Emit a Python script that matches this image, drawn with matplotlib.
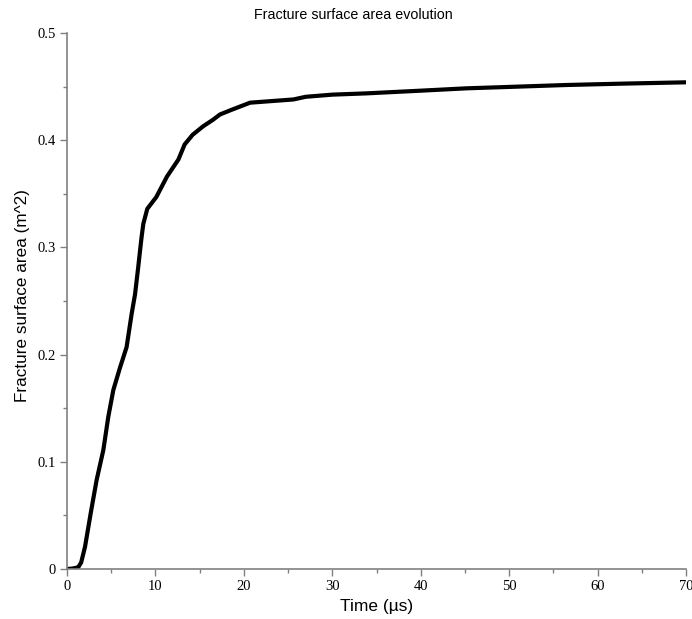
import matplotlib
matplotlib.use("Agg")
import matplotlib.pyplot as plt
import numpy as np
from matplotlib.ticker import MultipleLocator

time_us = [0, 0.5, 1.0, 1.3, 1.6, 2.04, 2.68, 3.35, 4.11, 4.67, 5.24, 6.0, 6.74, 7.31,
           7.69, 8.06, 8.26, 8.44, 8.63, 9.08, 10.1, 11.3, 12.6, 13.3, 14.2, 15.4,
           16.5, 17.3, 18.5, 20.7, 25.6, 27.0, 30.0, 33.9, 40.0, 45.2, 50.0, 56.5, 63.0, 70.0]
area_m2 = [0, 0.0003, 0.001, 0.002, 0.006, 0.0208, 0.052, 0.083, 0.111, 0.142, 0.167, 0.188,
           0.207, 0.238, 0.256, 0.282, 0.297, 0.310, 0.322, 0.336, 0.347, 0.366, 0.382,
           0.396, 0.405, 0.413, 0.419, 0.424, 0.428, 0.435, 0.438, 0.4405, 0.4425, 0.4437,
           0.4462, 0.4484, 0.4497, 0.4515, 0.4528, 0.454]

x_ticks = [0, 10, 20, 30, 40, 50, 60, 70]
y_ticks = [0, 0.1, 0.2, 0.3, 0.4, 0.5]
y_ticklabels = ["0", "0.1", "0.2", "0.3", "0.4", "0.5"]

fig = plt.figure(figsize=(6.92, 6.19), dpi=100)
ax = fig.add_axes([67/692, 1-569/619, (686-67)/692, (569-33)/619])
ax.plot(time_us, area_m2, color="black", lw=3.0, solid_capstyle="round", solid_joinstyle="round")
ax.set_xlim(0, 70)
ax.set_ylim(0, 0.5)
ax.set_xticks(x_ticks)
ax.set_yticks(y_ticks)
ax.set_yticklabels(y_ticklabels)
ax.xaxis.set_minor_locator(MultipleLocator(5))
ax.yaxis.set_minor_locator(MultipleLocator(0.05))
for s in ["top", "right"]:
    ax.spines[s].set_visible(False)
for s in ["left", "bottom"]:
    ax.spines[s].set_color("#808080")
    ax.spines[s].set_linewidth(1.2)
ax.tick_params(which="major", direction="out", length=5, width=1, color="#808080",
               labelsize=10.5, pad=3)
ax.tick_params(which="minor", direction="out", length=3, width=1, color="#808080")
for lab in ax.get_xticklabels() + ax.get_yticklabels():
    lab.set_fontfamily("Liberation Serif")
ax.set_xlabel("Time (µs)", fontfamily="Liberation Sans", fontsize=12.5)
ax.set_ylabel("Fracture surface area (m^2)", fontfamily="Liberation Sans", fontsize=12.3)
ax.xaxis.set_label_coords(0.5, -(606-569)/536, transform=ax.transAxes)
ax.yaxis.set_label_coords(-(67-23)/619, (569-296)/536, transform=ax.transAxes)
ax.xaxis.label.set_va("center")
ax.yaxis.label.set_va("center")
fig.text(353/692, 1-15/619, "Fracture surface area evolution", ha="center", va="center",
         fontfamily="Liberation Sans", fontsize=10.3)
fig.savefig("out.png", dpi=100)
